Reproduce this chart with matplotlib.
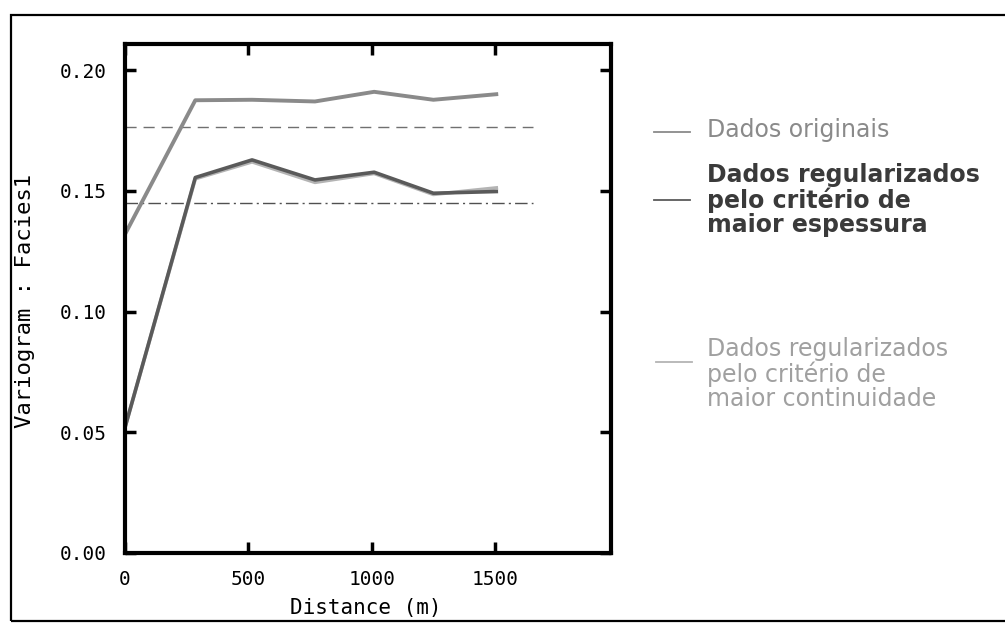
import matplotlib.pyplot as plt
from matplotlib.lines import Line2D
from matplotlib.patches import Rectangle

# experimental variogram, Facies1
lags = [0, 285, 515, 770, 1010, 1250, 1505]
gamma_orig = [0.132, 0.1875, 0.1877, 0.187, 0.191, 0.1877, 0.190]
gamma_espessura = [0.052, 0.1555, 0.1628, 0.1545, 0.1577, 0.149, 0.1497]
gamma_continuidade = [0.052, 0.1550, 0.1620, 0.1535, 0.1572, 0.1485, 0.1512]

# sill lines
sill_orig = 0.1765
sill_reg = 0.145
sill_end = 1655

xticks = [0, 500, 1000, 1500]
yticks = [0.00, 0.05, 0.10, 0.15, 0.20]

legend_labels = [
    "Dados originais",
    "Dados regularizados\npelo critério de\nmaior espessura",
    "Dados regularizados\npelo critério de\nmaior continuidade",
]

c_orig = "#8a8a8a"
c_esp = "#5a5a5a"
c_cont = "#b4b4b4"

W, H = 1005, 624
fig = plt.figure(figsize=(W / 100, H / 100), dpi=100)


def fx(px):
    return px / W


def fy(py):
    return 1 - py / H


ax = fig.add_axes([fx(125), fy(553), fx(611) - fx(125), fy(44) - fy(553)])

ax.plot([0, sill_end], [sill_orig, sill_orig], color="#707070", lw=1.0,
        dashes=(8, 5))
ax.plot([0, sill_end], [sill_reg, sill_reg], color="#505050", lw=1.0,
        dashes=(9, 3, 1.5, 3))
ax.plot(lags, gamma_orig, color=c_orig, lw=2.8)
ax.plot(lags, gamma_continuidade, color=c_cont, lw=2.6)
ax.plot(lags, gamma_espessura, color=c_esp, lw=2.6)

ax.set_xlim(0, 1970)
ax.set_ylim(0, 0.2108)
ax.set_xticks(xticks)
ax.set_yticks(yticks)
mono = "DejaVu Sans Mono"
ax.set_xticklabels([str(t) for t in xticks], family=mono, fontsize=14)
ax.set_yticklabels([f"{t:.2f}" for t in yticks], family=mono, fontsize=14)
ax.tick_params(direction="in", length=8, width=2.5, top=True, right=True)
ax.tick_params(axis="x", pad=12)
ax.tick_params(axis="y", pad=13)
for s in ax.spines.values():
    s.set_linewidth(3)

fig.text(fx(366), fy(608), "Distance (m)", family=mono, fontsize=15,
         ha="center", va="center")
fig.text(fx(25), fy(301), "Variogram : Facies1", family=mono, fontsize=16,
         ha="center", va="center", rotation=90)

# legend entries
sans = "DejaVu Sans"
fs = 17
fig.add_artist(Line2D([fx(654), fx(690)], [fy(132), fy(132)], color=c_orig, lw=1.3))
fig.text(fx(707), fy(130), legend_labels[0], family=sans, fontsize=fs,
         color=c_orig, va="center")

fig.add_artist(Line2D([fx(654), fx(690)], [fy(200), fy(200)], color=c_esp, lw=1.3))
fig.text(fx(707), fy(200), legend_labels[1], family=sans, fontsize=fs,
         color="#3a3a3a", va="center", linespacing=1.0, fontweight="bold")

fig.add_artist(Line2D([fx(656), fx(692)], [fy(362), fy(362)], color=c_cont, lw=1.3))
fig.text(fx(707), fy(374), legend_labels[2], family=sans, fontsize=fs,
         color="#a0a0a0", va="center", linespacing=1.0)

# outer frame
fig.add_artist(Rectangle((fx(11), fy(621)), fx(1010) - fx(11), fy(15) - fy(621),
                         transform=fig.transFigure, fill=False, lw=1.6,
                         edgecolor="black"))

fig.savefig("out.png", dpi=100)
